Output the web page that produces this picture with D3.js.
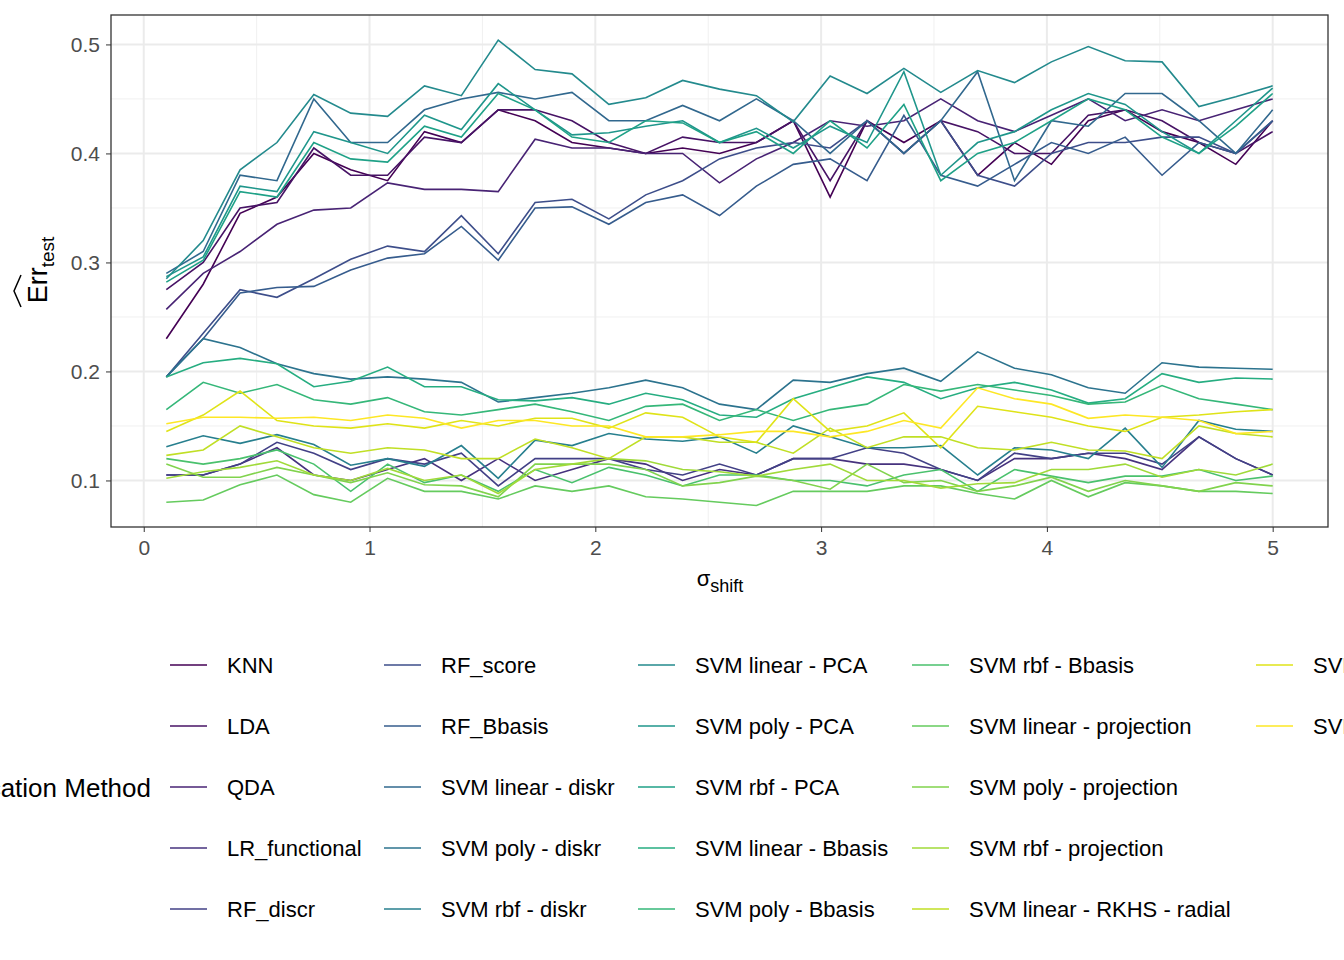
<!DOCTYPE html><html><head><script src="https://cdn.jsdelivr.net/npm/d3@7"></script>
<style>body{margin:0;background:#fff}text{font-family:Arial,"Liberation Sans",sans-serif}</style></head><body>
<svg id="c" width="1344" height="960"></svg>
<script>
const xs = d3.range(31).map(i => 0.1 + i * 4.9 / 30);
const methods = ["KNN","LDA","QDA","LR_functional","RF_discr","RF_score","RF_Bbasis","SVM linear - diskr","SVM poly - diskr","SVM rbf - diskr","SVM linear - PCA","SVM poly - PCA","SVM rbf - PCA","SVM linear - Bbasis","SVM poly - Bbasis","SVM rbf - Bbasis","SVM linear - projection","SVM poly - projection","SVM rbf - projection","SVM linear - RKHS - radial","SVM poly - RKHS - radial","SVM rbf - RKHS - radial"];
const values = [
[0.23,0.28,0.345,0.36,0.40,0.385,0.375,0.42,0.41,0.44,0.43,0.41,0.405,0.40,0.405,0.40,0.41,0.43,0.36,0.43,0.41,0.43,0.38,0.41,0.39,0.43,0.44,0.42,0.41,0.39,0.43],
[0.275,0.30,0.35,0.355,0.405,0.38,0.38,0.415,0.41,0.44,0.44,0.43,0.41,0.40,0.415,0.41,0.41,0.43,0.375,0.43,0.40,0.43,0.42,0.40,0.40,0.435,0.44,0.43,0.41,0.40,0.42],
[0.257,0.29,0.31,0.335,0.348,0.35,0.373,0.367,0.367,0.365,0.413,0.405,0.405,0.40,0.40,0.373,0.395,0.41,0.43,0.425,0.43,0.45,0.43,0.42,0.435,0.45,0.43,0.44,0.43,0.44,0.45],
[0.105,0.105,0.115,0.13,0.105,0.10,0.11,0.12,0.10,0.12,0.10,0.11,0.12,0.115,0.10,0.11,0.105,0.12,0.12,0.115,0.115,0.11,0.10,0.12,0.12,0.125,0.12,0.11,0.14,0.12,0.105],
[0.105,0.105,0.115,0.135,0.125,0.11,0.12,0.115,0.125,0.095,0.12,0.12,0.12,0.11,0.105,0.115,0.105,0.12,0.12,0.13,0.125,0.11,0.10,0.125,0.12,0.125,0.125,0.115,0.14,0.12,0.105],
[0.195,0.235,0.275,0.268,0.285,0.303,0.315,0.31,0.343,0.308,0.355,0.358,0.34,0.362,0.375,0.395,0.405,0.41,0.405,0.43,0.40,0.43,0.38,0.37,0.40,0.41,0.41,0.415,0.415,0.40,0.43],
[0.195,0.23,0.272,0.277,0.278,0.293,0.304,0.308,0.333,0.302,0.35,0.351,0.335,0.355,0.362,0.343,0.37,0.39,0.395,0.375,0.435,0.38,0.37,0.39,0.41,0.40,0.415,0.38,0.41,0.40,0.43],
[0.29,0.31,0.38,0.375,0.45,0.41,0.41,0.44,0.45,0.456,0.45,0.456,0.43,0.43,0.444,0.43,0.45,0.43,0.40,0.43,0.40,0.43,0.475,0.375,0.43,0.425,0.455,0.455,0.43,0.40,0.44],
[0.195,0.23,0.222,0.207,0.198,0.193,0.195,0.193,0.19,0.172,0.176,0.18,0.185,0.192,0.185,0.17,0.165,0.192,0.19,0.198,0.203,0.191,0.218,0.203,0.197,0.185,0.18,0.208,0.204,0.203,0.202],
[0.131,0.141,0.134,0.142,0.133,0.114,0.12,0.113,0.132,0.102,0.137,0.132,0.143,0.138,0.136,0.14,0.125,0.15,0.14,0.13,0.13,0.132,0.105,0.13,0.128,0.12,0.148,0.112,0.155,0.147,0.145],
[0.285,0.32,0.385,0.41,0.454,0.437,0.434,0.462,0.453,0.504,0.477,0.473,0.445,0.451,0.467,0.459,0.453,0.429,0.471,0.455,0.478,0.456,0.476,0.465,0.484,0.498,0.485,0.484,0.443,0.452,0.462],
[0.287,0.305,0.37,0.365,0.42,0.41,0.40,0.435,0.422,0.464,0.44,0.417,0.419,0.425,0.43,0.41,0.423,0.405,0.425,0.41,0.475,0.38,0.41,0.42,0.44,0.455,0.445,0.42,0.40,0.43,0.46],
[0.282,0.302,0.365,0.36,0.41,0.395,0.392,0.425,0.415,0.455,0.44,0.415,0.41,0.43,0.428,0.41,0.42,0.40,0.43,0.405,0.445,0.375,0.40,0.41,0.43,0.45,0.44,0.415,0.40,0.425,0.455],
[0.195,0.208,0.212,0.207,0.186,0.191,0.204,0.186,0.186,0.174,0.173,0.176,0.17,0.18,0.174,0.16,0.158,0.175,0.185,0.195,0.19,0.175,0.185,0.19,0.183,0.171,0.175,0.198,0.19,0.194,0.193],
[0.165,0.19,0.18,0.188,0.174,0.17,0.176,0.163,0.16,0.165,0.17,0.163,0.155,0.168,0.17,0.155,0.165,0.155,0.165,0.17,0.188,0.182,0.188,0.183,0.178,0.17,0.172,0.187,0.175,0.17,0.165],
[0.12,0.115,0.12,0.128,0.115,0.09,0.115,0.098,0.105,0.09,0.11,0.098,0.112,0.105,0.095,0.105,0.105,0.10,0.10,0.095,0.105,0.11,0.09,0.11,0.104,0.098,0.104,0.104,0.11,0.1,0.104],
[0.08,0.082,0.096,0.105,0.087,0.08,0.102,0.09,0.09,0.083,0.095,0.09,0.095,0.085,0.083,0.08,0.077,0.09,0.09,0.09,0.095,0.095,0.088,0.083,0.1,0.085,0.098,0.095,0.09,0.09,0.088],
[0.115,0.103,0.103,0.112,0.105,0.098,0.107,0.096,0.095,0.085,0.115,0.115,0.115,0.11,0.095,0.098,0.104,0.1,0.092,0.115,0.098,0.1,0.09,0.095,0.103,0.09,0.1,0.095,0.09,0.098,0.095],
[0.102,0.108,0.112,0.118,0.105,0.1,0.111,0.1,0.105,0.088,0.11,0.115,0.12,0.118,0.11,0.108,0.104,0.11,0.115,0.1,0.1,0.093,0.097,0.098,0.11,0.11,0.115,0.103,0.11,0.105,0.115],
[0.123,0.128,0.15,0.14,0.13,0.125,0.13,0.128,0.12,0.12,0.138,0.13,0.12,0.14,0.14,0.135,0.135,0.125,0.148,0.13,0.14,0.14,0.13,0.128,0.135,0.128,0.127,0.12,0.15,0.143,0.14],
[0.145,0.16,0.182,0.155,0.15,0.148,0.152,0.148,0.155,0.15,0.157,0.157,0.148,0.162,0.158,0.14,0.135,0.175,0.145,0.15,0.162,0.13,0.168,0.163,0.158,0.15,0.145,0.158,0.16,0.163,0.165],
[0.152,0.158,0.158,0.157,0.158,0.155,0.16,0.157,0.148,0.155,0.155,0.15,0.15,0.14,0.14,0.142,0.145,0.145,0.14,0.145,0.155,0.148,0.185,0.175,0.17,0.157,0.16,0.158,0.155,0.143,0.145]
];
const xTicks = [0,1,2,3,4,5];
const yTicks = [0.1,0.2,0.3,0.4,0.5];

const svg = d3.select("#c");
const L=111,R=1328,T=15,B=527;
const x = d3.scaleLinear().domain([-0.145,5.245]).range([L,R]);
const y = d3.scaleLinear().domain([0.0573,0.527]).range([B,T]);
const g = svg.append("g");
const minorX = d3.range(0.5,5.1,1), minorY=[0.15,0.25,0.35,0.45];
minorX.forEach(v=>g.append("line").attr("x1",x(v)).attr("x2",x(v)).attr("y1",T).attr("y2",B).attr("stroke","#f0f0f0").attr("stroke-width",1));
minorY.forEach(v=>g.append("line").attr("y1",y(v)).attr("y2",y(v)).attr("x1",L).attr("x2",R).attr("stroke","#f0f0f0").attr("stroke-width",1));
xTicks.forEach(v=>g.append("line").attr("x1",x(v)).attr("x2",x(v)).attr("y1",T).attr("y2",B).attr("stroke","#ebebeb").attr("stroke-width",2));
yTicks.forEach(v=>g.append("line").attr("y1",y(v)).attr("y2",y(v)).attr("x1",L).attr("x2",R).attr("stroke","#ebebeb").attr("stroke-width",2));
const col = i => d3.interpolateViridis(i/(methods.length-1));
const line = d3.line().x((d,i)=>x(xs[i])).y(d=>y(d));
values.forEach((v,i)=>g.append("path").attr("d",line(v)).attr("fill","none").attr("stroke",col(i)).attr("stroke-width",1.6));
g.append("rect").attr("x",L).attr("y",T).attr("width",R-L).attr("height",B-T).attr("fill","none").attr("stroke","#333").attr("stroke-width",1.3);
const xa = svg.append("g").attr("transform",`translate(0,${B})`).call(d3.axisBottom(x).tickValues(xTicks).tickFormat(d3.format("d")).tickSize(5).tickPadding(8));
const ya = svg.append("g").attr("transform",`translate(${L},0)`).call(d3.axisLeft(y).tickValues(yTicks).tickFormat(d3.format(".1f")).tickSize(5).tickPadding(6));
[xa,ya].forEach(a=>{a.select(".domain").remove();a.selectAll("line").attr("stroke","#333");a.selectAll("text").attr("fill","#4d4d4d").style("font-size","21px");});
const xl = svg.append("text").attr("x",720).attr("y",586).attr("text-anchor","middle").style("font-size","22px");
xl.append("tspan").text("σ");xl.append("tspan").attr("dy",6).style("font-size","18px").text("shift");
const yl = svg.append("text").attr("transform","translate(47,270) rotate(-90)").attr("text-anchor","middle").style("font-size","27px");
yl.append("tspan").text("Err");yl.append("tspan").attr("dy",7).style("font-size","19px").text("test");
svg.append("path").attr("d","M 21 307 L 14 291 L 21 275").attr("fill","none").attr("stroke","#000").attr("stroke-width",1.5);
svg.append("text").attr("x",151).attr("y",797).attr("text-anchor","end").style("font-size","26px").text("Classification Method");
const colX=[170,384,638,912,1256], rowY=[665,726,787,848,909];
methods.forEach((m,i)=>{const c=Math.floor(i/5), r=i%5;
 svg.append("line").attr("x1",colX[c]).attr("x2",colX[c]+37).attr("y1",rowY[r]).attr("y2",rowY[r]).attr("stroke",col(i)).attr("stroke-width",1.6);
 svg.append("text").attr("x",colX[c]+57).attr("y",rowY[r]+8).style("font-size","22px").text(m);});
</script></body></html>
